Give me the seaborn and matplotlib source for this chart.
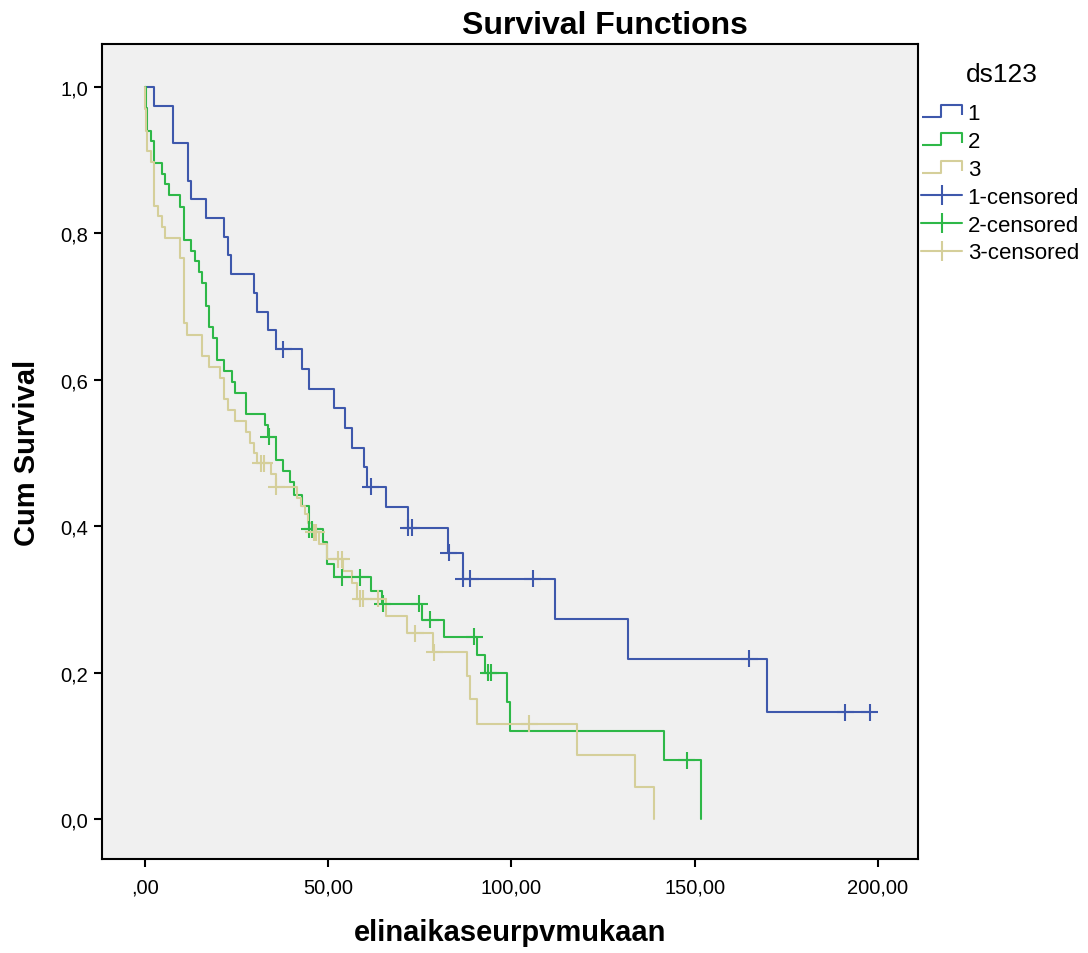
import numpy as np
import pandas as pd
import matplotlib
matplotlib.use('Agg')
import matplotlib.pyplot as plt
from matplotlib.lines import Line2D
from matplotlib.path import Path
import seaborn as sns

# Kaplan-Meier step curves (time, cumulative survival)
time_1 = [0, 2.5, 7.6, 11.65, 12.55, 16.6, 21.6, 22.6, 23.5, 29.7, 30.6, 33.6, 35.7,
          42.8, 44.7, 51.7, 54.6, 56.6, 59.7, 60.7, 65.8, 71.8, 82.8, 86.7, 111.8,
          131.8, 169.8, 197.8]
surv_1 = [1.0, 0.974, 0.923, 0.872, 0.847, 0.821, 0.795, 0.770, 0.745, 0.719, 0.693,
          0.668, 0.642, 0.615, 0.588, 0.561, 0.534, 0.507, 0.481, 0.454, 0.426, 0.398,
          0.364, 0.328, 0.273, 0.219, 0.146, 0.146]
cens_1 = [37.7, 61.6, 71.9, 72.8, 82.9, 86.8, 88.7, 105.8, 164.9, 191.0, 197.8]

time_2 = [0, 0.2, 0.5, 1.6, 2.5, 4.6, 5.5, 6.5, 9.6, 10.6, 12.6, 13.6, 14.7, 15.6,
          16.6, 17.5, 18.6, 19.6, 21.6, 23.7, 24.6, 27.6, 32.7, 33.6, 35.7, 37.6,
          39.6, 40.7, 42.8, 44.7, 48.6, 49.6, 51.6, 61.6, 64.7, 75.7, 81.7, 90.7,
          92.7, 98.8, 99.7, 141.7, 151.8]
surv_2 = [1.0, 0.971, 0.940, 0.926, 0.896, 0.881, 0.867, 0.852, 0.836, 0.791, 0.776,
          0.762, 0.747, 0.732, 0.701, 0.672, 0.657, 0.627, 0.612, 0.597, 0.582, 0.553,
          0.538, 0.522, 0.491, 0.476, 0.460, 0.443, 0.427, 0.396, 0.379, 0.348, 0.330,
          0.312, 0.294, 0.272, 0.249, 0.224, 0.200, 0.160, 0.120, 0.080, 0.0]
cens_2 = [33.8, 44.8, 45.6, 53.7, 58.7, 64.9, 74.8, 77.8, 89.8, 93.7, 94.4, 147.8]

time_3 = [0, 0.1, 0.3, 0.5, 1.6, 2.5, 3.5, 4.6, 5.5, 9.6, 10.6, 11.5, 15.6, 17.5,
          20.5, 21.6, 22.6, 24.6, 27.7, 28.6, 29.7, 30.6, 34.4, 35.7, 41.5, 42.7,
          43.7, 44.6, 45.5, 47.5, 49.6, 54.1, 56.4, 57.8, 65.9, 71.6, 78.7, 87.8,
          88.7, 90.7, 117.8, 133.8, 138.9]
surv_3 = [1.0, 0.97, 0.94, 0.912, 0.897, 0.838, 0.824, 0.809, 0.794, 0.766,
          0.677, 0.661, 0.633, 0.618, 0.603, 0.574, 0.559, 0.544, 0.529, 0.514, 0.5,
          0.486, 0.471, 0.454, 0.438, 0.428, 0.416, 0.405, 0.392, 0.376, 0.355, 0.339,
          0.323, 0.301, 0.278, 0.254, 0.228, 0.196, 0.164, 0.130, 0.087, 0.044, 0.0]
cens_3 = [31.6, 32.6, 35.8, 46.0, 46.7, 52.7, 53.7, 58.7, 59.6, 63.7, 73.7, 78.9, 104.8]

groups = ['1', '2', '3']
colors = {'1': '#3E58AC', '2': '#2EB848', '3': '#D5CF9A'}
curves = {'1': (time_1, surv_1, cens_1), '2': (time_2, surv_2, cens_2),
          '3': (time_3, surv_3, cens_3)}

steps, censored = [], []
for g in groups:
    t, s, c = curves[g]
    steps.append(pd.DataFrame({'group': g, 'time': t, 'surv': s}))
    # censored marks sit on the curve level at that time
    idx = np.searchsorted(t, c, side='right') - 1
    censored.append(pd.DataFrame({'group': g, 'time': c, 'surv': np.array(s)[idx]}))
steps = pd.concat(steps, ignore_index=True)
censored = pd.concat(censored, ignore_index=True)

sns.set_theme(style='white')
plt.rcParams['font.family'] = ['Liberation Sans', 'DejaVu Sans']
plt.rcParams['text.color'] = 'black'
plt.rcParams['axes.labelcolor'] = 'black'

fig = plt.figure(figsize=(10.88, 9.54), dpi=100)
ax = fig.add_axes([102 / 1088, 1 - 860 / 954, 816 / 1088, 815 / 954])
ax.set_facecolor('#F0F0F0')

sns.lineplot(data=steps, x='time', y='surv', hue='group', palette=colors,
             estimator=None, sort=False, drawstyle='steps-post', lw=1.5,
             legend=False, ax=ax)
sns.scatterplot(data=censored, x='time', y='surv', hue='group', palette=colors,
                marker='+', s=150, linewidth=1.5, legend=False, ax=ax, zorder=3)

ax.set_xlim(-11.7, 210.9)
ax.set_ylim(-0.0546, 1.0587)
ax.set_xticks([0, 50, 100, 150, 200])
ax.set_xticklabels([',00', '50,00', '100,00', '150,00', '200,00'])
ax.set_yticks([0, 0.2, 0.4, 0.6, 0.8, 1.0])
ax.set_yticklabels(['0,0', '0,2', '0,4', '0,6', '0,8', '1,0'])
ax.tick_params(axis='x', bottom=True, length=6, width=1.5, pad=7, labelsize=14.5,
               colors='black')
ax.tick_params(axis='y', left=True, length=6, width=1.5, pad=4, labelsize=14.5,
               colors='black')
for sp in ax.spines.values():
    sp.set_color('black')
    sp.set_linewidth(1.5)

ax.set_xlabel('elinaikaseurpvmukaan', fontsize=21, fontweight='bold', labelpad=16)
ax.set_ylabel('Cum Survival', fontsize=21, fontweight='bold', labelpad=14)

fig.text(605 / 1088, 1 - 34 / 954, 'Survival Functions', fontsize=23,
         fontweight='bold', ha='center', va='baseline')

# legend: step icons for curves, ticked lines for censored marks
step_icon = Path([(-1, -0.3), (-0.05, -0.3), (-0.05, 0.3), (1, 0.3), (1, -0.2)])
handles = [Line2D([], [], linestyle='none', marker=step_icon, markersize=29,
                  markerfacecolor='none', markeredgecolor=colors[g], mew=1.5)
           for g in groups]
handles += [Line2D([], [], color=colors[g], lw=1.5, marker='|', markersize=15, mew=1.5)
            for g in groups]
labels = groups + [g + '-censored' for g in groups]
fig.legend(handles, labels, loc='upper left', bbox_to_anchor=(921 / 1088, 1 - 104 / 954),
           frameon=False, fontsize=16, handlelength=1.85, handletextpad=0.25,
           labelspacing=0.31, borderpad=0, borderaxespad=0, numpoints=1)
fig.text(966 / 1088, 1 - 75 / 954, 'ds123', fontsize=19, ha='left', va='center')

fig.savefig('out.png', dpi=100)
